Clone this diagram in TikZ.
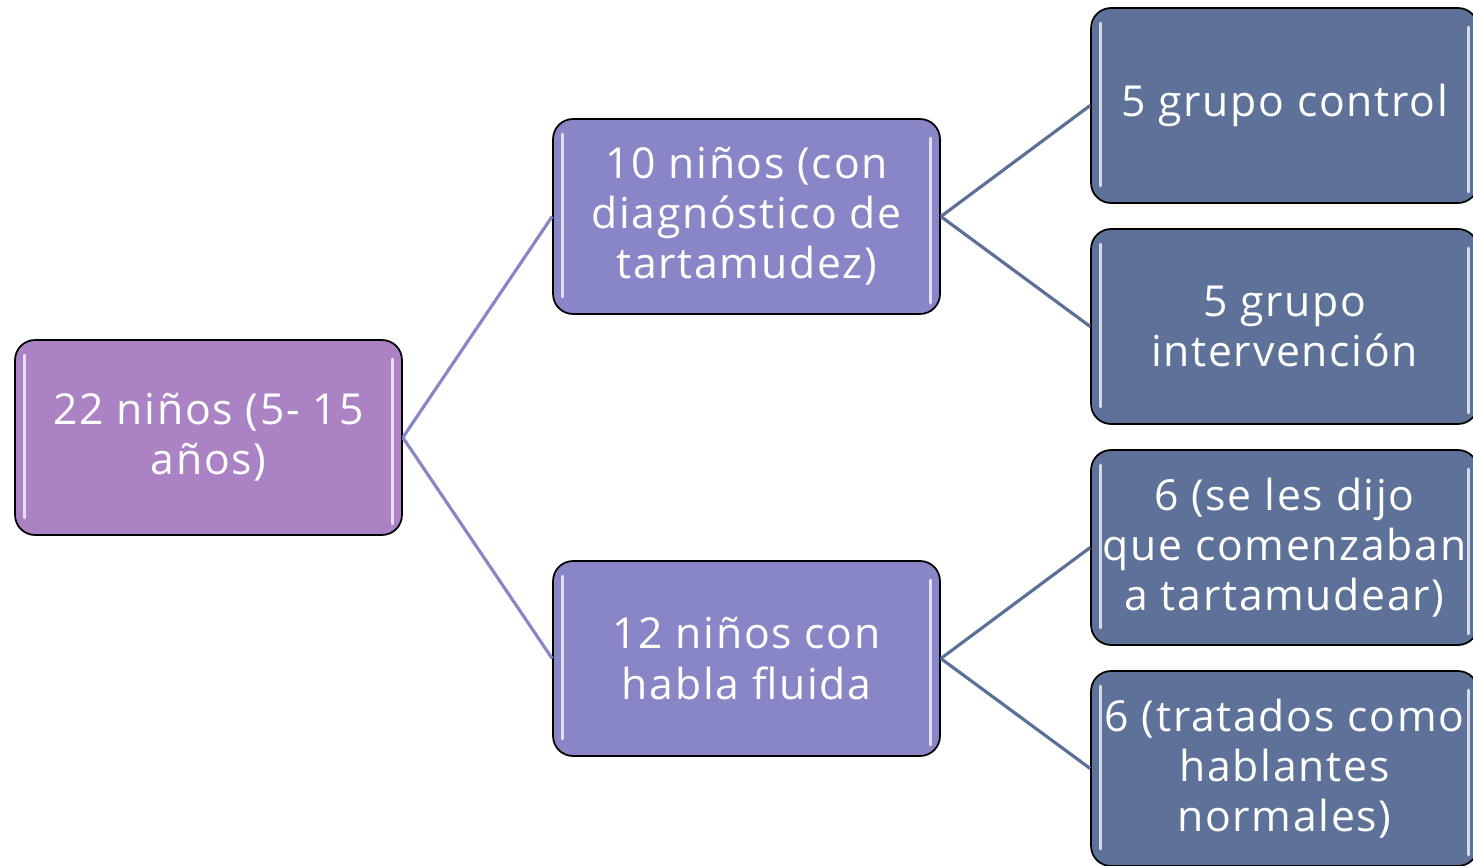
\documentclass[tikz,border=0pt]{standalone}
\usepackage{fontspec}
\setmainfont{Open Sans}[LetterSpace=4]
\usetikzlibrary{calc}
\definecolor{rootfill}{HTML}{AB83C4}
\definecolor{midfill}{HTML}{8886C7}
\definecolor{leaffill}{HTML}{5E7198}
\definecolor{leafline}{HTML}{5B6F97}
\tikzset{
  box/.style={draw=black, line width=1pt, rounded corners=0.4cm, text=white,
    minimum width=7.74cm, minimum height=3.9cm, align=center, inner sep=0pt,
    font=\fontsize{24.3}{28.5}\selectfont},
  rootbox/.style={box, fill=rootfill},
  midbox/.style={box, fill=midfill},
  leafbox/.style={box, fill=leaffill},
  shine/.style={draw=white, draw opacity=0.75, line width=1.8pt, line cap=round},
  link/.style={line width=1.8pt},
}
\def\shine(#1){\draw[shine] ($(#1.north west)+(10,16)$) -- ($(#1.south west)+(10,-18)$);
  \draw[shine] ($(#1.north east)+(-10,20)$) -- ($(#1.south east)+(-10,-12)$);}
\begin{document}
\begin{tikzpicture}[x=0.02cm, y=-0.02cm]
			%%%%% START %%%%%
			\useasboundingbox (0, 0) rectangle (1473, 865);
			
			\node[rootbox] (ninos) at (208.5, 437.5) {22 niños (5- 15\\años)};
			
			\node[midbox] (tarta) at (746.5, 216.5) {10 niños (con\\diagnóstico de\\tartamudez)};
			\node[midbox] (fluida) at (746.5, 658.5) {12 niños con\\habla fluida};
			
			\node[leafbox] (control) at (1284.5, 105.5) {5 grupo control};
			\node[leafbox] (interv) at (1284.5, 326.5) {5 grupo\\intervención};
			\node[leafbox] (dijo) at (1284.5, 547.5) {6 (se les dijo\\que comenzaban\\a tartamudear)};
			\node[leafbox] (normal) at (1284.5, 768.5) {6 (tratados como\\hablantes\\normales)};
			
			\shine(ninos)
			\shine(tarta) \shine(fluida)
			\shine(control) \shine(interv) \shine(dijo) \shine(normal)
			
			\draw[link, midfill] (ninos.east) -- (tarta.west);
			\draw[link, midfill] (ninos.east) -- (fluida.west);
			
			\draw[link, leafline] (tarta.east) -- (control.west);
			\draw[link, leafline] (tarta.east) -- (interv.west);
			\draw[link, leafline] (fluida.east) -- (dijo.west);
			\draw[link, leafline] (fluida.east) -- (normal.west);
			
			%%%%% END %%%%%
		\end{tikzpicture}
\end{document}
